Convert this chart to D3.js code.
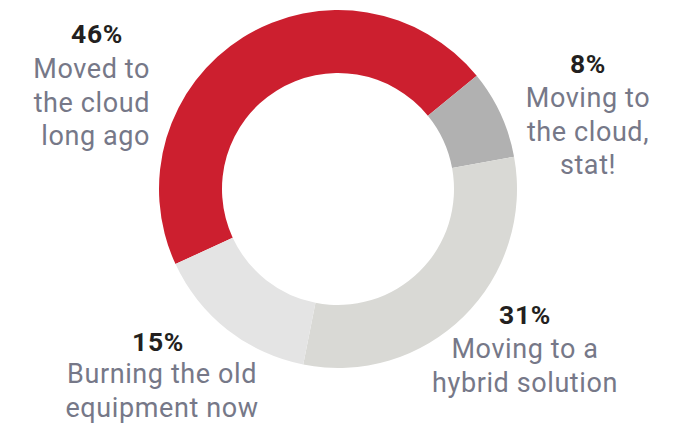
<!DOCTYPE html>
<html>
<head>
<meta charset="utf-8">
<script src="https://cdn.jsdelivr.net/npm/d3@7"></script>
<style>
  html, body { margin: 0; padding: 0; background: #fff; }
  svg { display: block; }
  text { font-family: Roboto, "Noto Sans", sans-serif; }
</style>
</head>
<body>
<svg id="chart" width="681" height="424"></svg>
<script>
// Survey shares, in drawing order (clockwise)
const categories = ["Moved to the cloud long ago", "Moving to the cloud, stat!", "Moving to a hybrid solution", "Burning the old equipment now"];
const values = [46, 8, 31, 15];
const colors = ["#cc1f2f", "#b1b1b1", "#d9d9d5", "#e4e4e4"];
const labelLines = [
  ["Moved to", "the cloud", "long ago"],
  ["Moving to", "the cloud,", "stat!"],
  ["Moving to a", "hybrid solution"],
  ["Burning the old", "equipment now"]
];

const svg = d3.select("#chart");
const cx = 338, cy = 189, outerR = 179, innerR = 116;

const pie = d3.pie()
  .sort(null)
  .value(d => d)
  .startAngle(-114.8 * Math.PI / 180)
  .endAngle(-114.8 * Math.PI / 180 + 2 * Math.PI);

const arc = d3.arc().innerRadius(innerR).outerRadius(outerR);

const g = svg.append("g").attr("transform", `translate(${cx},${cy})`);
g.selectAll("path")
  .data(pie(values))
  .join("path")
  .attr("d", arc)
  .attr("fill", (d, i) => colors[i]);

// Label placement: percent position, text anchor and line positions
const labelLayout = [
  { px: 97,  py: 43,  tx: 150, ty: 78,  anchor: "end" },
  { px: 588, py: 73,  tx: 588, ty: 107, anchor: "middle" },
  { px: 525, py: 324, tx: 525, ty: 358, anchor: "middle" },
  { px: 158, py: 351, tx: 162, ty: 383, anchor: "middle" }
];
const lineH = 33.5;

const labels = svg.append("g");
values.forEach((v, i) => {
  const L = labelLayout[i];
  labels.append("text")
    .attr("x", L.px).attr("y", L.py)
    .attr("text-anchor", "middle")
    .attr("font-size", 26.5)
    .attr("font-weight", 700)
    .attr("letter-spacing", 0.6)
    .attr("fill", "#231f20")
    .text(v + "%");
  labelLines[i].forEach((line, j) => {
    labels.append("text")
      .attr("x", L.tx).attr("y", L.ty + j * lineH)
      .attr("text-anchor", L.anchor)
      .attr("font-size", 27)
      .attr("letter-spacing", 0.6)
      .attr("fill", "#767888")
      .text(line);
  });
});
</script>
</body>
</html>
